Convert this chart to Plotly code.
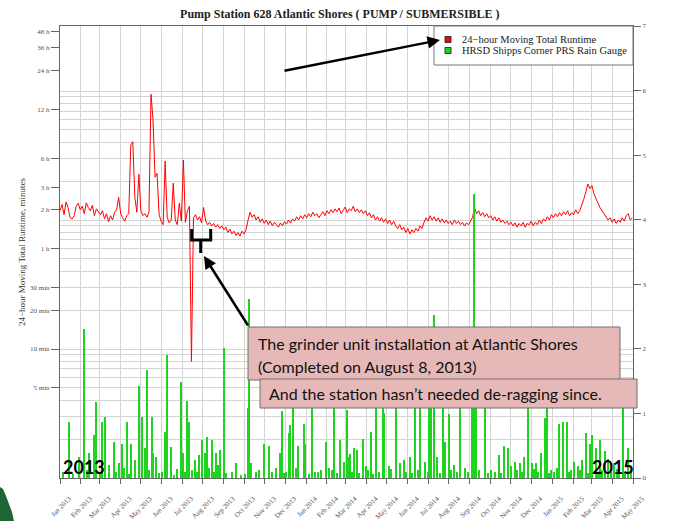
import pandas as pd
import plotly.graph_objects as go

# ---------------- data ----------------
chart_title = "Pump Station 628 Atlantic Shores ( PUMP / SUBMERSIBLE )"
runtime_name = "24\u2212hour Moving Total Runtime"
rain_name = "HRSD Shipps Corner PRS Rain Gauge"
y_title = "24\u2212hour Moving Total Runtime, minutes"

# 24-hour moving total runtime (minutes), one reading every 3 days from 2013-01-01
runtime_start = "2013-01-01"
runtime_step = "3D"
runtime_minutes = [
    118, 132, 110, 138, 125, 104, 102, 108, 128, 135,
    120, 128, 112, 136, 125, 118, 130, 108, 122, 115,
    110, 118, 102, 112, 97, 108, 100, 115, 120, 150,
    112, 104, 98, 108, 112, 380, 405, 150, 115, 226,
    118, 108, 112, 105, 115, 944, 600, 215, 230, 110,
    98, 92, 287, 105, 95, 100, 193, 100, 92, 135,
    98, 292, 96, 118, 128, 8, 104, 110, 100, 106,
    95, 125, 98, 92, 96, 90, 94, 88, 92, 86,
    90, 84, 88, 80, 85, 78, 82, 76, 80, 75,
    82, 78, 84, 100, 115, 105, 110, 100, 106, 96,
    102, 94, 100, 92, 98, 90, 96, 92, 88, 95,
    90, 97, 93, 100, 95, 102, 98, 106, 100, 108,
    102, 110, 104, 112, 106, 115, 108, 112, 104, 110,
    116, 108, 118, 112, 120, 114, 122, 116, 124, 112,
    120, 126, 114, 122, 118, 128, 116, 122, 114, 120,
    112, 118, 108, 114, 104, 110, 100, 106, 98, 104,
    96, 102, 94, 100, 92, 98, 90, 86, 92, 84,
    88, 80, 86, 78, 84, 80, 86, 82, 90, 86,
    96, 104, 98, 108, 100, 106, 98, 104, 96, 102,
    95, 100, 94, 98, 92, 100, 94, 98, 92, 96,
    90, 95, 92, 98, 105, 124, 112, 118, 108, 114,
    106, 112, 104, 108, 100, 106, 98, 104, 96, 100,
    94, 98, 92, 96, 90, 95, 88, 94, 90, 96,
    88, 94, 92, 98, 90, 96, 92, 100, 94, 102,
    98, 106, 100, 110, 104, 112, 106, 114, 108, 116,
    110, 118, 108, 114, 110, 120, 112, 118, 130, 145,
    165, 190, 175, 185, 160, 145, 135, 125, 118, 112,
    106, 100, 104, 96, 102, 94, 100, 96, 104, 98,
    108, 112, 100, 104,
]

# daily rain gauge (inches)
rain_dates = [
    "2013-01-05", "2013-01-14", "2013-01-20", "2013-01-29", "2013-02-06", "2013-02-10", "2013-02-14",
    "2013-02-20", "2013-02-24", "2013-03-01", "2013-03-04", "2013-03-09", "2013-03-15", "2013-03-22",
    "2013-03-25", "2013-03-30", "2013-04-03", "2013-04-06", "2013-04-11", "2013-04-14", "2013-04-17",
    "2013-04-22", "2013-04-28", "2013-05-03", "2013-05-08", "2013-05-10", "2013-05-13", "2013-05-17",
    "2013-05-19", "2013-05-23", "2013-05-28", "2013-06-02", "2013-06-06", "2013-06-09", "2013-06-15",
    "2013-06-20", "2013-06-24", "2013-06-30", "2013-07-03", "2013-07-06", "2013-07-09", "2013-07-12",
    "2013-07-16", "2013-07-21", "2013-07-24", "2013-07-27", "2013-07-31", "2013-08-05", "2013-08-08",
    "2013-08-11", "2013-08-15", "2013-08-18", "2013-08-21", "2013-08-24", "2013-08-27", "2013-09-01",
    "2013-09-05", "2013-09-13", "2013-09-20", "2013-09-27", "2013-10-03", "2013-10-07", "2013-10-09",
    "2013-10-12", "2013-10-19", "2013-10-24", "2013-10-31", "2013-11-07", "2013-11-12", "2013-11-17",
    "2013-11-23", "2013-11-26", "2013-11-30", "2013-12-03", "2013-12-07", "2013-12-09", "2013-12-13",
    "2013-12-17", "2013-12-21", "2013-12-29", "2013-12-31",
    "2014-01-05", "2014-01-10", "2014-01-15", "2014-01-19", "2014-01-24", "2014-01-31", "2014-02-05",
    "2014-02-08", "2014-02-12", "2014-02-16", "2014-02-20", "2014-02-27", "2014-03-03", "2014-03-05",
    "2014-03-08", "2014-03-10", "2014-03-14", "2014-03-18", "2014-03-21", "2014-03-26", "2014-03-31",
    "2014-04-03", "2014-04-07", "2014-04-10", "2014-04-15", "2014-04-20", "2014-04-25", "2014-04-27",
    "2014-05-04", "2014-05-08", "2014-05-15", "2014-05-21", "2014-05-26", "2014-05-30", "2014-06-04",
    "2014-06-08", "2014-06-12", "2014-06-16", "2014-06-20", "2014-06-26", "2014-07-01", "2014-07-03",
    "2014-07-06", "2014-07-10", "2014-07-15", "2014-07-19", "2014-07-23", "2014-07-27", "2014-08-02",
    "2014-08-05", "2014-08-09", "2014-08-13", "2014-08-17", "2014-08-18", "2014-08-25", "2014-08-30",
    "2014-09-05", "2014-09-08", "2014-09-11", "2014-09-15", "2014-09-23", "2014-09-28", "2014-10-03",
    "2014-10-08", "2014-10-14", "2014-10-18", "2014-10-22", "2014-10-28", "2014-11-02", "2014-11-07",
    "2014-11-10", "2014-11-14", "2014-11-18", "2014-11-21", "2014-11-26", "2014-12-02", "2014-12-05",
    "2014-12-08", "2014-12-12", "2014-12-16", "2014-12-21", "2014-12-24", "2014-12-28", "2014-12-31",
    "2015-01-04", "2015-01-08", "2015-01-12", "2015-01-17", "2015-01-23", "2015-01-26", "2015-01-29",
    "2015-02-03", "2015-02-08", "2015-02-11", "2015-02-15", "2015-02-20", "2015-02-23", "2015-02-26",
    "2015-03-02", "2015-03-07", "2015-03-10", "2015-03-14", "2015-03-17", "2015-03-20", "2015-03-25",
    "2015-03-29", "2015-04-03", "2015-04-08", "2015-04-11", "2015-04-16", "2015-04-20", "2015-04-24",
    "2015-04-28",
]
rain_inches = [
    0.10, 0.87, 0.06, 0.33, 2.30, 0.12, 0.39,
    0.67, 1.17, 0.08, 0.87, 0.94, 0.20, 0.55,
    0.10, 0.23, 0.53, 0.15, 0.87, 0.06, 0.53,
    0.28, 1.42, 0.95, 0.46, 1.68, 0.12, 0.95,
    0.39, 0.33, 0.08, 0.10, 0.72, 1.90, 0.48,
    0.05, 0.14, 1.48, 0.39, 0.10, 1.20, 0.87,
    0.12, 0.28, 0.10, 0.36, 0.59, 0.39, 0.64,
    0.15, 0.59, 0.10, 0.39, 0.20, 0.44, 2.02,
    0.08, 0.10, 0.23, 0.05, 0.06, 1.08, 2.77,
    0.23, 0.10, 0.12, 0.52, 0.49, 0.10, 0.15,
    0.39, 1.04, 0.08, 0.10, 0.70, 0.82, 1.08,
    0.15, 0.49, 0.84, 0.52,
    0.06, 1.08, 0.10, 0.10, 0.12, 0.55, 0.15,
    0.12, 1.08, 0.08, 0.59, 0.25, 1.05, 0.33,
    0.37, 0.10, 0.47, 0.43, 0.08, 0.60, 0.18,
    0.12, 0.72, 0.06, 1.50, 0.10, 1.40, 1.00,
    0.18, 0.14, 1.60, 0.23, 0.28, 0.10, 0.33,
    0.08, 1.30, 0.12, 1.50, 0.25, 0.10, 1.90,
    1.30, 2.52, 0.33, 0.08, 1.40, 0.55, 0.99,
    0.12, 0.20, 0.10, 0.68, 1.20, 0.15, 0.10,
    1.50, 4.40, 1.20, 0.12, 1.30, 0.08, 0.12,
    0.10, 0.36, 0.08, 0.50, 0.47, 0.18, 0.25,
    0.12, 0.24, 0.10, 0.33, 1.40, 0.23, 0.14,
    0.23, 0.10, 0.39, 0.93, 1.20, 0.08, 0.12,
    0.10, 0.15, 0.84, 0.86, 0.86, 0.10, 0.13,
    0.25, 0.18, 0.12, 0.28, 0.69, 0.08, 0.52,
    0.66, 0.47, 0.10, 0.59, 0.12, 0.42, 0.30,
    0.10, 0.23, 0.14, 0.08, 1.50, 0.10, 0.47,
    0.12,
]

left_tick_minutes = [2880, 2160, 1440, 720, 300, 180, 120, 60, 30, 20, 10, 5]
left_tick_labels = ["48 h", "36 h", "24 h", "12 h", "6 h", "3 h", "2 h", "1 h",
                    "30 min", "20 min", "10 min", "5 min"]
grid_minutes = [2, 3, 4, 5, 6, 7, 8, 9, 10, 20, 30, 40, 50, 60, 70, 80, 90, 100,
                200, 300, 400, 500, 600, 700, 800, 900, 1000]
right_ticks = [0, 1, 2, 3, 4, 5, 6, 7]

box1_lines = ["The grinder unit installation at Atlantic Shores", "(Completed on August 8, 2013)"]
box2_text = "And the station hasn\u2019t needed de-ragging since."

# ---------------- figure ----------------
W, H = 673, 521
L, R, T, B = 60, 633, 26, 478

RED = "#ff0000"
GREEN = "#1fd41f"


def fx(p):
    return (p - L) / (R - L)


def fy(p):
    return (B - p) / (B - T)


runtime_dates = pd.date_range(runtime_start, periods=len(runtime_minutes), freq=runtime_step)

fig = go.Figure()
fig.add_trace(go.Scatter(x=runtime_dates, y=runtime_minutes, mode="lines",
                         line=dict(color=RED, width=1), showlegend=False,
                         name=runtime_name))
fig.add_trace(go.Bar(x=pd.to_datetime(rain_dates), y=rain_inches, yaxis="y2",
                     width=2 * 86400000, marker=dict(color=GREEN, line=dict(width=0)),
                     showlegend=False, name=rain_name))

serif = "Liberation Serif"
sans = "Lato"
grid_col = "#d4d4d4"
axis_col = "#666666"

fig.update_layout(
    width=W, height=H,
    margin=dict(l=L, r=W - R, t=T, b=H - B, autoexpand=False),
    paper_bgcolor="white", plot_bgcolor="white",
    title=dict(text="<b>" + chart_title + "</b>", x=0.505, xref="container",
               y=1 - 14 / H, yanchor="middle",
               font=dict(family=serif, size=12, color="#222")),
    showlegend=False,
    xaxis=dict(type="date", range=["2013-01-01", "2015-05-01"],
               tick0="2013-01-01", dtick="M1", tickformat="%b %Y",
               tickangle=-45, ticks="outside", ticklen=5, tickcolor=axis_col,
               tickfont=dict(family=serif, size=7, color="#555"),
               ticklabelshift=9, ticklabelstandoff=8,
               showgrid=True, gridcolor=grid_col, gridwidth=1,
               showline=True, linecolor=axis_col, linewidth=1, mirror=True,
               zeroline=False),
    yaxis=dict(type="log", range=[0, 3.504],
               tickmode="array", tickvals=left_tick_minutes, ticktext=left_tick_labels,
               ticks="outside", ticklen=8, tickcolor=axis_col,
               tickfont=dict(family=serif, size=7, color="#555"),
               showgrid=False,
               minor=dict(tickmode="array", tickvals=grid_minutes, showgrid=True,
                          gridcolor=grid_col, gridwidth=1, ticks=""),
               showline=True, linecolor=axis_col, linewidth=1, mirror=True,
               zeroline=False),
    yaxis2=dict(overlaying="y", side="right", range=[0, 7],
                tickmode="array", tickvals=right_ticks,
                ticks="outside", ticklen=7, tickcolor=axis_col,
                tickfont=dict(family=serif, size=7, color="#555"),
                showgrid=False, zeroline=False, showline=True,
                linecolor=axis_col, linewidth=1),
    bargap=0,
)

shapes = []
# legend box and keys
shapes.append(dict(type="rect", xref="paper", yref="paper", layer="above",
                   x0=fx(434), x1=fx(633), y0=fy(65), y1=fy(26),
                   fillcolor="white", line=dict(color="#777", width=1)))
shapes.append(dict(type="rect", xref="paper", yref="paper", layer="above",
                   x0=fx(445), x1=fx(451), y0=fy(42.5), y1=fy(36.5),
                   fillcolor=RED, line=dict(color="#333", width=1)))
shapes.append(dict(type="rect", xref="paper", yref="paper", layer="above",
                   x0=fx(445), x1=fx(451), y0=fy(53.5), y1=fy(47.5),
                   fillcolor=GREEN, line=dict(color="#333", width=1)))
# slide annotation boxes
shapes.append(dict(type="rect", xref="paper", yref="paper", layer="above",
                   x0=fx(248), x1=fx(620), y0=fy(380), y1=fy(327),
                   fillcolor="#e6b9b8", line=dict(color="#6e6e6e", width=1)))
shapes.append(dict(type="rect", xref="paper", yref="paper", layer="above",
                   x0=fx(260), x1=fx(637), y0=fy(408), y1=fy(379),
                   fillcolor="#e6b9b8", line=dict(color="#6e6e6e", width=1)))
# bracket marking the installation
bracket = (f"M {fx(191.7)},{fy(229)} L {fx(191.7)},{fy(240)} L {fx(210.7)},{fy(240)} "
           f"L {fx(210.7)},{fy(229)} M {fx(200.7)},{fy(240)} L {fx(200.7)},{fy(253)}")
shapes.append(dict(type="path", xref="paper", yref="paper", layer="above", path=bracket,
                   line=dict(color="black", width=3)))
# logo fragment at the bottom-left corner of the slide
logo = (f"M {fx(0)},{fy(487)} L {fx(3)},{fy(489)} L {fx(6)},{fy(496)} L {fx(9)},{fy(504)} "
        f"L {fx(12)},{fy(512)} L {fx(14)},{fy(521)} L {fx(0)},{fy(521)} Z")
shapes.append(dict(type="path", xref="paper", yref="paper", layer="above", path=logo,
                   fillcolor="#1d6436", line=dict(width=0)))
fig.update_layout(shapes=shapes)

ann = []
ann.append(dict(xref="paper", yref="paper", x=fx(460), y=fy(39.5), xanchor="left",
                yanchor="middle", text=runtime_name, showarrow=False,
                font=dict(family=serif, size=10.5, color="#222")))
ann.append(dict(xref="paper", yref="paper", x=fx(460), y=fy(50.5), xanchor="left",
                yanchor="middle", text=rain_name, showarrow=False,
                font=dict(family=serif, size=10.5, color="#222")))
ann.append(dict(xref="paper", yref="paper", x=fx(15), y=0.5, text=y_title,
                textangle=-90, showarrow=False,
                font=dict(family=serif, size=9, color="#333")))
ann.append(dict(xref="paper", yref="paper", x=fx(256), y=fy(343), xanchor="left",
                yanchor="middle", text=box1_lines[0], showarrow=False,
                font=dict(family=sans, size=16, color="#111")))
ann.append(dict(xref="paper", yref="paper", x=fx(256), y=fy(366), xanchor="left",
                yanchor="middle", text=box1_lines[1], showarrow=False,
                font=dict(family=sans, size=16, color="#111")))
ann.append(dict(xref="paper", yref="paper", x=fx(267), y=fy(393.5), xanchor="left",
                yanchor="middle", text=box2_text, showarrow=False,
                font=dict(family=sans, size=16, color="#111")))
# arrows
ann.append(dict(xref="paper", yref="paper", x=fx(204), y=fy(256), text="",
                showarrow=True, ax=249 - 204, ay=327 - 256, arrowhead=2,
                arrowsize=1, arrowwidth=2.5, arrowcolor="black"))
ann.append(dict(xref="paper", yref="paper", x=fx(440), y=fy(40), text="",
                showarrow=True, ax=283 - 440, ay=71 - 40, arrowhead=2,
                arrowsize=1, arrowwidth=2.5, arrowcolor="black"))
ann.append(dict(xref="paper", yref="paper", x=fx(61), y=fy(467), xanchor="left",
                yanchor="middle", text="<b>2013</b>", showarrow=False,
                font=dict(family=sans, size=18, color="black")))
ann.append(dict(xref="paper", yref="paper", x=fx(590), y=fy(467), xanchor="left",
                yanchor="middle", text="<b>2015</b>", showarrow=False,
                font=dict(family=sans, size=18, color="black")))
fig.update_layout(annotations=ann)

fig.write_html("out.html", config={"displayModeBar": False},
               post_script="document.body.style.margin='0px';")
